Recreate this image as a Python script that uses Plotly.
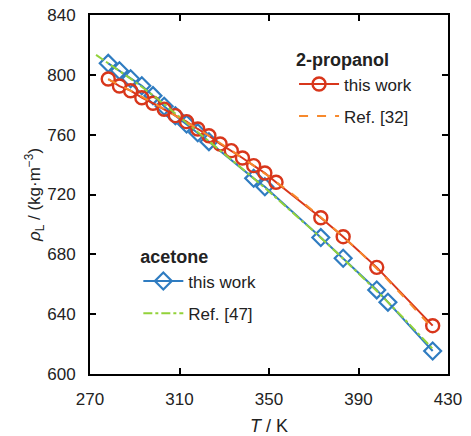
import plotly.graph_objects as go

# 2-propanol, saturated liquid density (this work)
propanol_T = [278.15, 283.15, 288.15, 293.15, 298.15, 303.15, 308.15, 313.15,
              318.15, 323.15, 328.15, 333.15, 338.15, 343.15, 348.15, 353.15,
              373.15, 383.15, 398.15, 423.15]
propanol_rho = [797.2, 792.5, 789.4, 784.7, 781.0, 777.0, 772.7, 768.7,
                763.8, 759.3, 753.8, 749.3, 744.4, 739.3, 734.4, 728.2,
                704.5, 691.8, 671.3, 632.3]

# 2-propanol, Ref. [32]
propanol_ref_T = [278.15, 290, 300, 310, 320, 330, 340, 350, 360, 370,
                  380, 390, 400, 410, 423.15]
propanol_ref_rho = [797.0, 788.0, 779.8, 771.2, 762.3, 752.6, 742.6, 732.0,
                    720.8, 708.8, 696.0, 682.4, 667.8, 652.0, 630.5]

# acetone, saturated liquid density (this work)
acetone_T = [278.15, 283.15, 288.15, 293.15, 298.15, 303.15, 308.15, 313.15,
             318.15, 323.15, 343.15, 348.15, 373.15, 383.15, 398.15, 403.15,
             423.15]
acetone_rho = [807.7, 802.8, 797.4, 792.7, 786.1, 779.0, 772.7, 767.1,
               761.3, 755.3, 730.8, 725.2, 691.2, 677.4, 656.2, 648.0,
               615.4]

# acetone, Ref. [47]
acetone_ref_T = [272.7, 280, 290, 300, 310, 320, 330, 340, 350, 360, 370,
                 380, 390, 400, 410, 420, 423.15]
acetone_ref_rho = [813.3, 805.6, 795.5, 784.2, 772.0, 759.6, 747.3, 734.8,
                   722.0, 708.8, 695.4, 681.6, 667.5, 652.8, 637.6, 621.6,
                   616.8]

x_ticks = [270, 310, 350, 390, 430]
y_ticks = [600, 640, 680, 720, 760, 800, 840]

RED = "#d8361b"
ORANGE = "#f7892c"
BLUE = "#2f7cc1"
GREEN = "#93d23a"
TEXT = "#222222"
FONT = "Liberation Sans, Arial, sans-serif"

fig = go.Figure()

# measured series first, reference correlations drawn over them
fig.add_trace(go.Scatter(
    x=acetone_T, y=acetone_rho, mode="lines+markers", name="this work",
    line=dict(color=BLUE, width=2),
    marker=dict(symbol="diamond-open", size=13, color=BLUE,
                line=dict(width=2.2, color=BLUE)),
    legend="legend2", legendgroup="a1", legendrank=1))
fig.add_trace(go.Scatter(
    x=propanol_T, y=propanol_rho, mode="lines+markers", name="this work",
    line=dict(color=RED, width=2),
    marker=dict(symbol="circle-open", size=13, color=RED,
                line=dict(width=2.4, color=RED)),
    legend="legend", legendgroup="p1", legendrank=1))
fig.add_trace(go.Scatter(
    x=acetone_ref_T, y=acetone_ref_rho, mode="lines", name="Ref. [47]",
    line=dict(color=GREEN, width=2, dash="dashdot"),
    legend="legend2", legendgroup="a2", legendrank=2))
fig.add_trace(go.Scatter(
    x=propanol_ref_T, y=propanol_ref_rho, mode="lines", name="Ref. [32]",
    line=dict(color=ORANGE, width=2, dash="dash"),
    legend="legend", legendgroup="p2", legendrank=2))

axis_common = dict(
    showline=True, linecolor="black", linewidth=2, mirror="allticks",
    ticks="inside", ticklen=6, tickwidth=2, tickcolor="black",
    showgrid=False, zeroline=False, ticklabelstandoff=9, automargin=False,
    tickfont=dict(family=FONT, size=17, color=TEXT),
)

fig.update_xaxes(
    range=[270, 430], tickvals=x_ticks, ticktext=[str(v) for v in x_ticks],
    title=dict(text="<i>T</i> / K", font=dict(family=FONT, size=18, color=TEXT),
               standoff=12),
    **axis_common)
fig.update_yaxes(
    range=[600, 840], tickvals=y_ticks, ticktext=[str(v) for v in y_ticks],
    title=dict(text="<i>ρ</i><sub>L</sub> / (kg·m<sup>−3</sup>)",
               font=dict(family=FONT, size=17, color=TEXT), standoff=2),
    **axis_common)

legend_common = dict(
    font=dict(family=FONT, size=17, color=TEXT),
    bgcolor="rgba(0,0,0,0)", borderwidth=0, tracegroupgap=7,
    itemwidth=40, traceorder="grouped",
)

fig.update_layout(
    width=471, height=436,
    margin=dict(l=90, r=23, t=15, b=62),
    paper_bgcolor="white", plot_bgcolor="white",
    font=dict(family=FONT),
    legend=dict(
        title=dict(text="<b>2-propanol</b>", font=dict(family=FONT, size=18, color=TEXT)),
        x=0.57, y=0.922, xanchor="left", yanchor="top", **legend_common),
    legend2=dict(
        title=dict(text="<b>acetone</b>", font=dict(family=FONT, size=18, color=TEXT)),
        x=0.135, y=0.373, xanchor="left", yanchor="top", **legend_common),
)

fig.write_html("out.html")
